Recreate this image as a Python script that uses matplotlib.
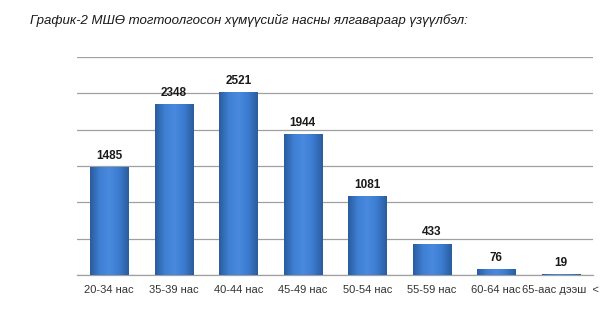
import numpy as np
import matplotlib.pyplot as plt
from matplotlib.colors import LinearSegmentedColormap

# age groups and counts
age_groups = ['20-34 нас', '35-39 нас', '40-44 нас', '45-49 нас',
              '50-54 нас', '55-59 нас', '60-64 нас', '65-аас дээш  <']
counts = [1485, 2348, 2521, 1944, 1081, 433, 76, 19]
y_ticks = [0, 500, 1000, 1500, 2000, 2500, 3000]

title = 'График-2 МШӨ тогтоолгосон хүмүүсийг насны ялгавараар үзүүлбэл:'

plt.rcParams['font.family'] = ['Liberation Sans', 'DejaVu Sans']

fig = plt.figure(figsize=(6.08, 3.30), dpi=100)
ax = fig.add_axes([77 / 608, 1 - 275 / 330, 516 / 608, 218 / 330])

x = np.arange(len(age_groups))
bars = ax.bar(x, counts, width=0.59, color='#3b7bd0', edgecolor='#2d5f9f',
              linewidth=0.6, zorder=3)

# horizontal shading across each bar, dark at the edges
shade = LinearSegmentedColormap.from_list(
    'shade', ['#2a5c9e', '#3f80d4', '#4a8ade', '#3b7bd0', '#2b5d9c'])
grad = np.linspace(0, 1, 64).reshape(1, -1)
for b in bars:
    bx, by = b.get_x(), b.get_y()
    bw, bh = b.get_width(), b.get_height()
    im = ax.imshow(grad, cmap=shade, aspect='auto', zorder=3.5,
                   extent=[bx, bx + bw, by, by + bh], interpolation='bicubic')
    im.set_clip_path(b)

for xi, v in zip(x, counts):
    ax.text(xi, v + 70, str(v), ha='center', va='bottom',
            fontsize=8.5, fontweight='bold', color='#1a1a1a', zorder=5)

ax.set_xlim(-0.5, len(age_groups) - 0.5)
ax.set_ylim(0, 3000)
ax.set_yticks(y_ticks)
ax.yaxis.grid(True, color='#a0a0a0', linewidth=0.9, zorder=0)
ax.tick_params(axis='y', left=False, labelleft=False)
ax.tick_params(axis='x', length=0, pad=7, labelsize=8, labelcolor='#333333')
ax.set_xticks(x)
ax.set_xticklabels(age_groups)
for s in ['left', 'right', 'top']:
    ax.spines[s].set_visible(False)
ax.spines['bottom'].set_color('#a0a0a0')
ax.spines['bottom'].set_linewidth(0.9)

fig.text(30 / 608, 1 - 20 / 330, title, fontsize=9.5, style='italic',
         color='#1a1a1a', ha='left', va='center')

fig.savefig('out.png', dpi=100)
